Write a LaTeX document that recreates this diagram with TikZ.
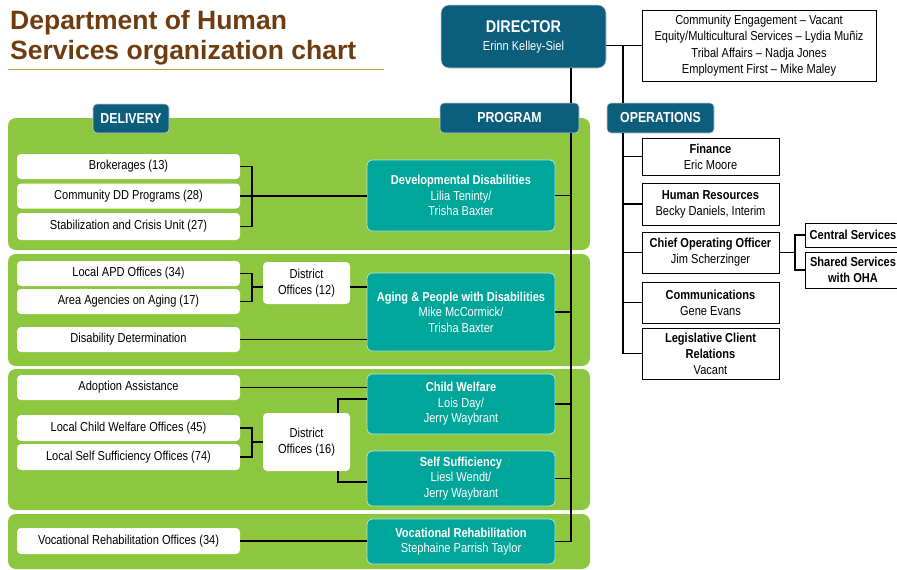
\documentclass[tikz,border=0pt]{standalone}
\usepackage{fontspec}
\setmainfont{Liberation Sans}
\newfontfamily\condfont[FakeStretch=0.85]{Liberation Sans}
\definecolor{dhsbrown}{RGB}{110,60,15}
\definecolor{dhsgold}{RGB}{200,155,50}
\definecolor{dhsblue}{RGB}{11,94,124}
\definecolor{dhsteal}{RGB}{0,166,153}
\definecolor{dhsgreen}{RGB}{141,198,63}

\begin{document}
\begin{tikzpicture}[x=1pt,y=-1pt,
  title/.style={text=dhsbrown,inner sep=0pt,font=\bfseries\fontsize{26.5}{30}\selectfont},
  panel/.style={fill=dhsgreen,rounded corners=8pt},
  head/.style={fill=dhsblue,draw=white!80!black,line width=0.6pt,rounded corners=4pt,
    text=white,inner sep=0pt,font=\condfont\bfseries\fontsize{14.5}{16}\selectfont},
  unit/.style={fill=white,rounded corners=4pt,inner sep=0pt,minimum width=223pt,
    minimum height=25pt,font=\condfont\fontsize{13}{15}\selectfont},
  district/.style={fill=white,rounded corners=4pt,inner sep=0pt,minimum width=87pt,
    align=center,font=\condfont\fontsize{13}{16}\selectfont},
  progbox/.style={fill=dhsteal,draw=white!70!dhsteal,line width=0.8pt,rounded corners=5pt,
    text=white,inner sep=0pt,minimum width=188pt,align=center,
    font=\condfont\fontsize{13}{15.5}\selectfont},
  opbox/.style={fill=white,draw=black,line width=0.9pt,inner sep=0pt,minimum width=137pt,
    align=center,font=\condfont\fontsize{13}{16}\selectfont},
  link/.style={draw=black,line width=1.2pt}]
\useasboundingbox (0,0) rectangle (897,570);

\node[title,anchor=base west] (title1) at (10,29) {Department of Human};
\node[title,anchor=base west] (title2) at (10,59) {Services organization chart};
\draw[dhsgold,line width=0.8pt] (8,69) -- (384,69);

\fill[panel] (8,118) rectangle (590,250);
\fill[panel] (8,254) rectangle (590,366);
\fill[panel] (8,369) rectangle (590,510);
\fill[panel] (8,514) rectangle (590,569);

\node[fill=dhsblue,draw=white!80!black,line width=0.6pt,rounded corners=8pt,text=white,
  minimum width=165pt,minimum height=63pt,inner sep=0pt,align=center,
  font=\condfont\fontsize{13}{18}\selectfont] (dir) at (523.5,36.5)
  {{\bfseries\fontsize{17}{18}\selectfont DIRECTOR}\\Erinn Kelley-Siel};
\node[opbox,minimum width=234pt,minimum height=71pt,font=\condfont\fontsize{13}{16.5}\selectfont] (adv) at (759,45.5)
  {Community Engagement – Vacant\\Equity/Multicultural Services – Lydia Muñiz\\Tribal Affairs – Nadja Jones\\Employment First – Mike Maley};

\node[head,minimum width=76pt,minimum height=29pt] (deliv) at (131,118.5) {DELIVERY};
\node[head,minimum width=139pt,minimum height=30pt] (prog) at (509.5,118) {PROGRAM};
\node[head,minimum width=107pt,minimum height=30pt] (ops) at (660.5,118) {OPERATIONS};

\node[unit] (brok) at (128.5,166.5) {Brokerages (13)};
\node[unit] (cdd) at (128.5,196) {Community DD Programs (28)};
\node[unit,minimum height=27pt] (scu) at (128.5,226.5) {Stabilization and Crisis Unit (27)};
\node[unit] (apd) at (128.5,273.5) {Local APD Offices (34)};
\node[unit] (aaa) at (128.5,301.5) {Area Agencies on Aging (17)};
\node[unit] (dde) at (128.5,339.5) {Disability Determination};
\node[unit] (ado) at (128.5,387.5) {Adoption Assistance};
\node[unit,minimum height=26pt] (lcw) at (128.5,428) {Local Child Welfare Offices (45)};
\node[unit,minimum height=26pt] (lss) at (128.5,457) {Local Self Sufficiency Offices (74)};
\node[unit,minimum height=26pt] (vro) at (128.5,541) {Vocational Rehabilitation Offices (34)};

\node[district,minimum height=42pt] (d12) at (306.5,283) {District\\Offices (12)};
\node[district,minimum height=58pt] (d16) at (306.5,442) {District\\Offices (16)};

\node[progbox,minimum height=71pt] (dd) at (461,195.5)
  {\textbf{Developmental Disabilities}\\Lilia Teninty/\\Trisha Baxter};
\node[progbox,minimum height=78pt] (apdp) at (461,312)
  {\textbf{Aging \& People with Disabilities}\\Mike McCormick/\\Trisha Baxter};
\node[progbox,minimum height=60pt] (cw) at (461,404)
  {\textbf{Child Welfare}\\Lois Day/\\Jerry Waybrant};
\node[progbox,minimum height=55pt] (ss) at (461,478.5)
  {\textbf{Self Sufficiency}\\Liesl Wendt/\\Jerry Waybrant};
\node[progbox,minimum height=45pt] (vr) at (461,541.5)
  {\textbf{Vocational Rehabilitation}\\Stephaine Parrish Taylor};

\node[opbox,minimum height=37pt] (fin) at (710.5,156.5) {\textbf{Finance}\\Eric Moore};
\node[opbox,minimum height=42pt] (hr) at (710.5,204) {\textbf{Human Resources}\\Becky Daniels, Interim};
\node[opbox,minimum height=41pt] (coo) at (710.5,252.5) {\textbf{Chief Operating Officer}\\Jim Scherzinger};
\node[opbox,minimum height=41pt] (com) at (710.5,302.5) {\textbf{Communications}\\Gene Evans};
\node[opbox,minimum height=51pt] (leg) at (710.5,353.5) {\textbf{Legislative Client}\\\textbf{Relations}\\Vacant};
\node[opbox,minimum width=96pt,minimum height=24pt] (cen) at (853,235) {\textbf{Central Services}};
\node[opbox,minimum width=96pt,minimum height=36pt] (sha) at (853,270) {\textbf{Shared Services}\\\textbf{with OHA}};

\coordinate (progline) at (571,0);
\coordinate (opsline) at (623,0);
\coordinate (brk1) at (252,196);
\coordinate (brk2) at (252,287);
\coordinate (brk3) at (252,442);
\coordinate (cooline) at (795,252.5);

\draw[link] (dir.east |- adv.west) -- (adv.west);
\draw[link] (opsline |- adv.west) -- (opsline |- ops.north);
\draw[link] (opsline |- ops.south) -- (opsline |- leg.west) -- (leg.west);
\draw[link] (opsline |- fin.west) -- (fin.west);
\draw[link] (opsline |- hr.west) -- (hr.west);
\draw[link] (opsline |- coo.west) -- (coo.west);
\draw[link] (opsline |- com.west) -- (com.west);
\draw[link] (coo.east) -- (cooline);
\draw[link] (cen.west) -| (cooline) |- (sha.west);

\draw[link] (progline |- dir.south) -- (progline |- prog.north);
\draw[link] (progline |- prog.south) -- (progline |- vr.east) -- (vr.east);
\draw[link] (progline |- dd.east) -- (dd.east);
\draw[link] (progline |- apdp.east) -- (apdp.east);
\draw[link] (progline |- cw.east) -- (cw.east);
\draw[link] (progline |- ss.east) -- (ss.east);

\draw[link] (brok.east) -| (brk1) |- (scu.east);
\draw[link] (cdd.east) -- (cdd.east -| dd.west);
\draw[link] (apd.east) -| (brk2) |- (aaa.east);
\draw[link] (brk2) -- (brk2 -| d12.west);
\draw[link] (d12.east |- brk2) -- (brk2 -| apdp.west);
\draw[link] (dde.east) -- (dde.east -| apdp.west);
\draw[link] (ado.east) -- (ado.east -| cw.west);
\draw[link] (lcw.east) -| (brk3) |- (lss.east);
\draw[link] (brk3) -- (brk3 -| d16.west);
\draw[link] ([xshift=31.5pt]d16.north) |- ([yshift=5pt]cw.west);
\draw[link] ([xshift=31.5pt]d16.south) |- ([yshift=-3.5pt]ss.west);
\draw[link] (vro.east) -- (vro.east -| vr.west);
\end{tikzpicture}
\end{document}
